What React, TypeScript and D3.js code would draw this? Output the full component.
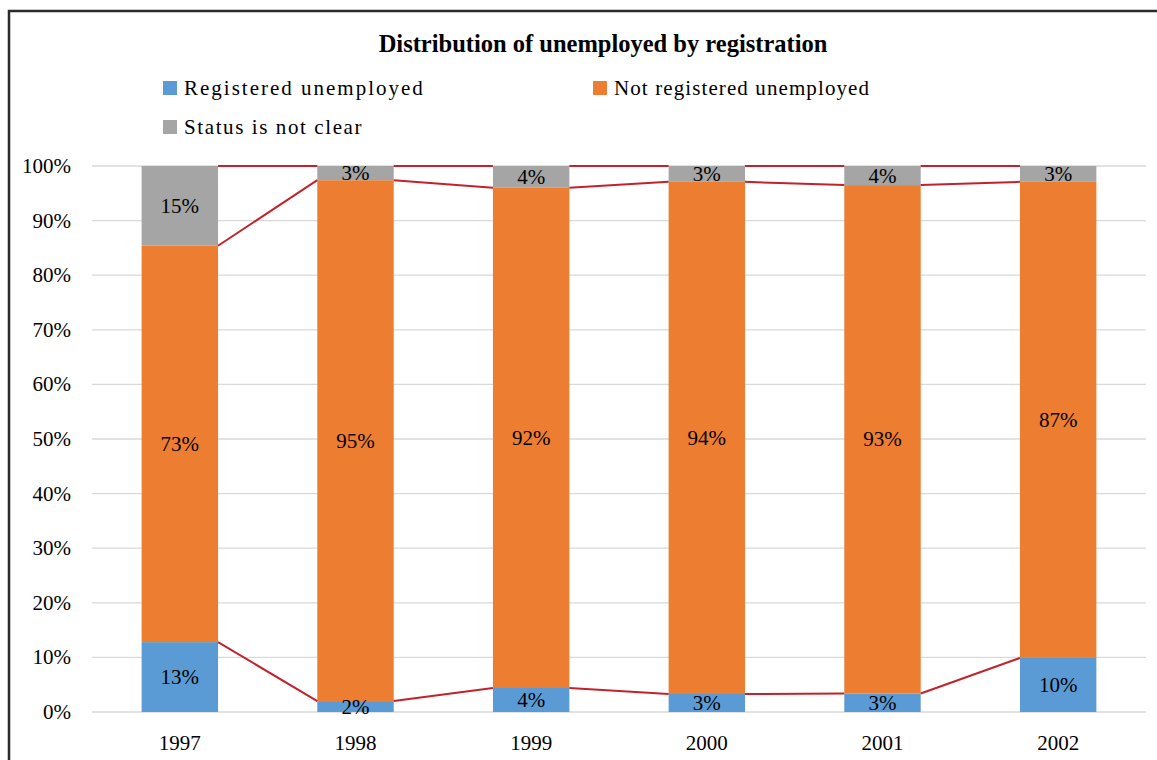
import React from 'react';
import * as d3 from 'd3';

const years = ['1997', '1998', '1999', '2000', '2001', '2002'];
const registered = [12.8, 2.0, 4.4, 3.3, 3.4, 9.9];
const notRegistered = [72.6, 95.4, 91.6, 93.8, 93.1, 87.2];
const notClear = [14.6, 2.6, 4.0, 2.9, 3.5, 2.9];
const yTicks = [0, 10, 20, 30, 40, 50, 60, 70, 80, 90, 100];

const seriesNames = ['Registered unemployed', 'Not registered unemployed', 'Status is not clear'];
const colors = ['#5b9bd5', '#ed7d31', '#a5a5a5'];

const W = 1157;
const H = 760;
const margin = { top: 166, right: 11, bottom: 48, left: 92 };
const font = '"Liberation Serif", "DejaVu Serif", serif';

const App = () => {
  const rows = years.map((y, i) => ({
    year: y,
    s0: registered[i],
    s1: notRegistered[i],
    s2: notClear[i],
  }));
  const stack = d3.stack<any>().keys(['s0', 's1', 's2']);
  const layers = stack(rows);

  const x = d3
    .scaleBand()
    .domain(years)
    .range([margin.left, W - margin.right])
    .paddingInner(0.565)
    .paddingOuter(0.2825);
  const y = d3.scaleLinear().domain([0, 100]).range([H - margin.bottom, margin.top]);
  const bw = x.bandwidth();

  // series lines between bars, at the top of each stacked layer
  const lines: any[] = [];
  layers.forEach((layer, li) => {
    for (let i = 0; i < years.length - 1; i++) {
      const top = li === layers.length - 1 ? 100 : layer[i][1];
      const topNext = li === layers.length - 1 ? 100 : layer[i + 1][1];
      lines.push({
        key: `${li}-${i}`,
        x1: (x(years[i]) as number) + bw,
        x2: x(years[i + 1]) as number,
        y1: y(top),
        y2: y(topNext),
      });
    }
  });

  return (
    <svg
      width={W}
      height={H}
      style={{ position: 'absolute', left: 0, top: 0, background: '#fff' }}
      fontFamily={font}
    >
      <rect x={9} y={11} width={W + 20} height={H + 20} fill="#fff" stroke="#2b2b2b" strokeWidth={2.5} />

      <text x={603} y={52} textAnchor="middle" fontSize={24.5} fontWeight="bold" fill="#000">
        Distribution of unemployed by registration
      </text>

      {/* legend */}
      {[
        { i: 0, lx: 163, ly: 88, ls: 2 },
        { i: 1, lx: 593, ly: 88, ls: 1.1 },
        { i: 2, lx: 163, ly: 127, ls: 1.6 },
      ].map(({ i, lx, ly, ls }) => (
        <g key={i}>
          <rect x={lx} y={ly - 7} width={14} height={14} fill={colors[i]} />
          <text x={lx + 21} y={ly + 7} fontSize={21} letterSpacing={ls} fill="#000">
            {seriesNames[i]}
          </text>
        </g>
      ))}

      {/* grid */}
      {yTicks.map((t) => (
        <g key={t}>
          <line x1={margin.left} x2={W - margin.right} y1={y(t)} y2={y(t)} stroke="#d9d9d9" strokeWidth={1.3} />
          <text x={71} y={y(t) + 7} textAnchor="end" fontSize={21} fill="#000">
            {t}%
          </text>
        </g>
      ))}

      {/* bars */}
      {layers.map((layer, li) =>
        layer.map((d, i) => (
          <rect
            key={`${li}-${i}`}
            x={x(years[i])}
            y={y(d[1])}
            width={bw}
            height={y(d[0]) - y(d[1])}
            fill={colors[li]}
          />
        ))
      )}

      {lines.map((l) => (
        <line key={l.key} x1={l.x1} x2={l.x2} y1={l.y1} y2={l.y2} stroke="#c0232b" strokeWidth={2} />
      ))}

      {/* labels */}
      {layers.map((layer, li) =>
        layer.map((d, i) => (
          <text
            key={`l${li}-${i}`}
            x={(x(years[i]) as number) + bw / 2}
            y={(y(d[0]) + y(d[1])) / 2 + 7}
            textAnchor="middle"
            fontSize={21}
            fill="#000"
          >
            {Math.round(d[1] - d[0])}%
          </text>
        ))
      )}

      {years.map((yr) => (
        <text
          key={yr}
          x={(x(yr) as number) + bw / 2}
          y={750}
          textAnchor="middle"
          fontSize={21}
          fill="#000"
        >
          {yr}
        </text>
      ))}
    </svg>
  );
};

export default App;
